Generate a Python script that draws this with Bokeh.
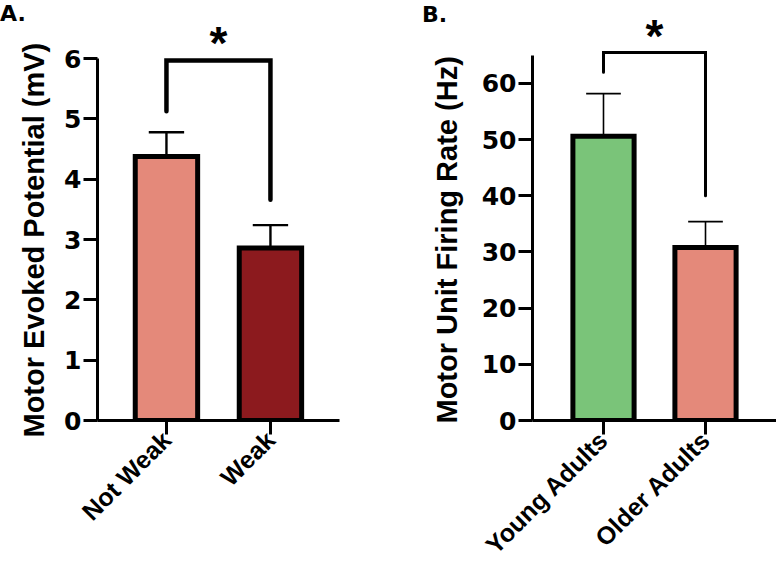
import math
from bokeh.plotting import figure
from bokeh.layouts import row, column
from bokeh.models import Range1d, FixedTicker, Label, Title, Div
from bokeh.embed import file_html
from bokeh.resources import INLINE

# ---- Panel A data ----
a_groups = ["Not Weak", "Weak"]
a_values = [4.38, 2.86]
a_errors = [0.40, 0.38]
a_colors = ["#E4897A", "#8C1A1E"]
a_bracket_y = [5.13, 5.97, 5.97, 3.66]
a_yticks = [0, 1, 2, 3, 4, 5, 6]
a_ylabel = "Motor Evoked Potential (mV)"

# ---- Panel B data ----
b_groups = ["Young Adults", "Older Adults"]
b_values = [50.6, 30.8]
b_errors = [7.6, 4.6]
b_colors = ["#7AC479", "#E4897A"]
b_bracket_y = [62.0, 65.5, 65.5, 40.0]
b_yticks = [0, 10, 20, 30, 40, 50, 60]
b_ylabel = "Motor Unit Firing Rate (Hz)"

FONT = "Liberation Sans"
NUMFONT = "DejaVu Sans"
H = 578


def panel(groups, values, errors, colors, bracket_y, ylabel, yticks, yend, ybound,
          xr, width, left, right, bracket_w, err_w, star_y, title_off, title_standoff):
    xs = [i + 1 for i in range(len(groups))]
    p = figure(width=width, height=H, output_backend="svg", toolbar_location=None,
               x_range=Range1d(*xr), y_range=Range1d(0, yend),
               min_border_left=left, min_border_right=right,
               min_border_top=0, min_border_bottom=158)
    p.outline_line_color = None
    p.xgrid.visible = False
    p.ygrid.visible = False
    p.background_fill_color = "white"
    p.border_fill_color = "white"

    # error bars (drawn first so the bar outline covers their base)
    tops = [v + e for v, e in zip(values, errors)]
    p.segment(x0=xs, y0=values, x1=xs, y1=tops, line_color="black", line_width=err_w)
    cw = 0.17
    p.segment(x0=[x - cw for x in xs], y0=tops, x1=[x + cw for x in xs], y1=tops,
              line_color="black", line_width=err_w)
    # bars
    p.vbar(x=xs, top=values, width=0.6, bottom=0, fill_color=colors,
           line_color="black", line_width=5, line_join="miter")
    # significance bracket and star
    p.line(x=[xs[0], xs[0], xs[1], xs[1]], y=bracket_y, line_color="black",
           line_width=bracket_w, line_cap="round", line_join="miter")
    p.add_layout(Label(x=(xs[0] + xs[1]) / 2, y=star_y, text="*", text_align="center",
                       text_baseline="alphabetic", text_font=FONT, text_font_style="bold",
                       text_font_size="46px", text_color="black"))

    # y axis
    p.yaxis.bounds = (0, ybound)
    p.yaxis.ticker = FixedTicker(ticks=yticks)
    p.yaxis.minor_tick_line_color = None
    p.yaxis.major_tick_in = 0
    p.yaxis.major_tick_out = 14
    p.yaxis.major_tick_line_width = 3
    p.yaxis.axis_line_width = 3
    p.yaxis.major_label_text_font = NUMFONT
    p.yaxis.major_label_text_font_style = "bold"
    p.yaxis.major_label_text_font_size = "25px"
    p.yaxis.major_label_text_color = "black"
    p.yaxis.major_label_standoff = 2
    p.yaxis.axis_label = None
    p.add_layout(Title(text=ylabel, align="left", offset=title_off, standoff=title_standoff,
                       text_font=FONT, text_font_style="bold", text_font_size="29px",
                       text_color="black"), "left")

    # x axis
    p.xaxis.ticker = FixedTicker(ticks=xs)
    p.xaxis.major_label_overrides = {x: g for x, g in zip(xs, groups)}
    p.xaxis.minor_tick_line_color = None
    p.xaxis.major_tick_in = 0
    p.xaxis.major_tick_out = 14
    p.xaxis.major_tick_line_width = 3
    p.xaxis.axis_line_width = 3
    p.xaxis.major_label_orientation = math.pi / 4
    p.xaxis.major_label_text_font = FONT
    p.xaxis.major_label_text_font_style = "bold"
    p.xaxis.major_label_text_font_size = "25px"
    p.xaxis.major_label_text_color = "black"
    p.xaxis.major_label_standoff = 1
    return p


pa = panel(a_groups, a_values, a_errors, a_colors, a_bracket_y, a_ylabel, a_yticks,
           6.965, 6, (0.337, 2.664), 400, 97, 61, 4.5, 2.4, 6.259, -17, 23)
pb = panel(b_groups, b_values, b_errors, b_colors, b_bracket_y, b_ylabel, b_yticks,
           74.77, 65, (0.304, 2.696), 376, 132, 0, 3, 1.6, 68.43, -3, 32)

letter_css = {"font-family": NUMFONT, "font-weight": "bold", "font-size": "22px",
              "line-height": "22px", "color": "black"}
div_a = Div(text="A.", width=40, height=24, margin=(0, 0, 0, 0), styles=letter_css)
div_b = Div(text="B.", width=40, height=24, margin=(1, 0, 0, 382), styles=letter_css)
letters = row(div_a, div_b, margin=(-575, 0, 0, 0))

layout = column(row(pa, pb), letters)
open("out.html", "w").write(file_html(layout, INLINE))
